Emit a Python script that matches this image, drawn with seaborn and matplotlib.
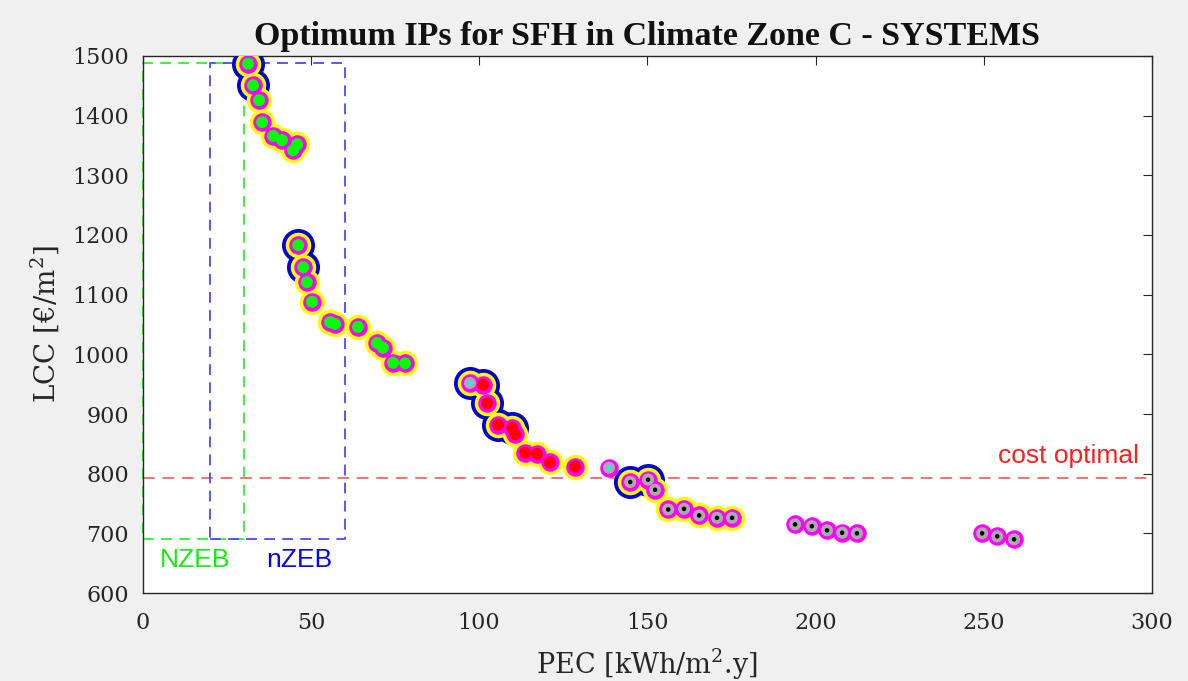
import matplotlib
matplotlib.use("Agg")
import matplotlib.pyplot as plt
import seaborn as sns
import pandas as pd
import numpy as np

# ---------------- data ----------------
pec = [31.3, 32.8, 34.6, 35.5, 38.8, 41.4, 45.9, 44.7,
       46.2, 47.7, 48.8, 50.3, 55.7, 57.2, 64.0, 69.6, 71.4, 74.4, 78.0,
       101.2, 97.3, 102.4, 105.6, 109.8, 110.7, 113.7, 117.2, 121.0, 128.5,
       138.6, 150.2, 144.9, 152.3, 156.2, 160.9, 165.4, 170.7, 175.2,
       193.9, 198.9, 203.4, 207.9, 212.3, 249.5, 254.0, 259.0]
lcc = [1487, 1451, 1426, 1389, 1366, 1359, 1352, 1342,
       1183, 1146, 1121, 1088, 1054, 1051, 1046, 1019, 1011, 986, 985,
       949, 952, 918, 882, 877, 866, 835, 833, 819, 812,
       810, 790, 786, 773, 740, 741, 730, 726, 726,
       715, 712, 705, 701, 700, 700, 695, 690]
fill = (["green"] * 19 + ["red"] * 10 + ["gray"] * 9 + ["gray"] * 8)
fill[20] = "gray"   # reference point (cyan dot)
centre = ["none"] * 29 + ["black"] * 17
centre[20] = "cyan"
centre[29] = "cyan"
blue_ring = [1, 1, 0, 0, 0, 0, 0, 0,
             1, 1, 0, 0, 0, 0, 0, 0, 0, 0, 0,
             1, 1, 1, 1, 1, 0, 0, 0, 0, 0,
             0, 1, 1, 0, 0, 0, 0, 0, 0,
             0, 0, 0, 0, 0, 0, 0, 0]
yellow_ring = [1] * 29 + [0] + [1] * 8 + [0] * 8

cost_optimal = 793
nzeb_x = [0, 30]
nzeb_y = [690, 1488]
nzeb2_x = [20, 60]
nzeb2_y = [690, 1488]

x_ticks = [0, 50, 100, 150, 200, 250, 300]
y_ticks = [600, 700, 800, 900, 1000, 1100, 1200, 1300, 1400, 1500]

df = pd.DataFrame({"pec": pec, "lcc": lcc, "fill": fill, "centre": centre,
                   "blue": blue_ring, "yellow": yellow_ring})

# ---------------- style ----------------
sns.set_theme(style="white")
plt.rcParams["font.family"] = ["DejaVu Serif"]
plt.rcParams["mathtext.default"] = "regular"

fig = plt.figure(figsize=(11.88, 6.81), dpi=100)
fig.patch.set_facecolor("#f0f0f0")
ax = fig.add_axes([0.1201, 0.1292, 0.8496, 0.7886])
ax.set_facecolor("white")

px = 0.72  # points per pixel at 100 dpi
fill_colors = {"green": "#00ff00", "red": "#ff0000", "gray": "#ababab"}

# blue outer rings
sns.scatterplot(data=df[df["blue"] == 1], x="pec", y="lcc", ax=ax, s=(33 * px) ** 2,
                color="#0000d0", linewidth=0, legend=False, zorder=3)
# yellow rings
sns.scatterplot(data=df[(df["yellow"] == 1) | (df["blue"] == 1)], x="pec", y="lcc", ax=ax,
                s=(25.5 * px) ** 2, color="#ffff00", linewidth=0, legend=False, zorder=4)
# magenta rings
sns.scatterplot(data=df, x="pec", y="lcc", ax=ax, s=(18.5 * px) ** 2,
                color="#ff00ff", linewidth=0, legend=False, zorder=5)
# inner fills
sns.scatterplot(data=df, x="pec", y="lcc", hue="fill", palette=fill_colors, ax=ax,
                s=(12 * px) ** 2, linewidth=0, legend=False, zorder=6)
# centre dots
ddf = df[df["centre"] != "none"]
sns.scatterplot(data=ddf, x="pec", y="lcc", hue="centre",
                palette={"black": "#000000", "cyan": "#00ffff"}, ax=ax,
                s=(4.5 * px) ** 2, linewidth=0, legend=False, zorder=7)

# NZEB / nZEB boxes
def box(xs, ys, color):
    bx = [xs[0], xs[1], xs[1], xs[0], xs[0]]
    by = [ys[0], ys[0], ys[1], ys[1], ys[0]]
    ax.plot(bx, by, linestyle=(0, (6, 4)), color=color, linewidth=1.3, zorder=2,
            clip_on=False)

box(nzeb_x, nzeb_y, "#33ee33")
box(nzeb2_x, nzeb2_y, "#4a4aff")

ax.axhline(cost_optimal, color="#ff7070", linestyle=(0, (6, 4)), linewidth=1.4, zorder=1)

ax.text(5, 655, "NZEB", color="#11ee11", fontsize=19,
        family=["Liberation Sans"], va="center", ha="left")
ax.text(36.7, 655, "nZEB", color="#0000ff", fontsize=19,
        family=["Liberation Sans"], va="center", ha="left")
ax.text(296, 830, "cost optimal", color="#ff2020", fontsize=19,
        family=["Liberation Sans"], va="center", ha="right")

ax.set_xlim(0, 300)
ax.set_ylim(600, 1500)
ax.set_xticks(x_ticks)
ax.set_yticks(y_ticks)
ax.tick_params(direction="in", length=6.5, width=0.8, top=True, right=True,
               labelsize=16, colors="#262626", pad=10)
ax.tick_params(axis="x", pad=14)
for sp in ax.spines.values():
    sp.set_visible(True)
    sp.set_color("#262626")
    sp.set_linewidth(1.0)

ax.set_xlabel("PEC [kWh/m$^2$.y]", fontsize=19.5, color="#262626", labelpad=9)
ax.set_ylabel("LCC [€/m$^2$]", fontsize=20, color="#262626", labelpad=8)
ax.set_title("Optimum IPs for SFH in Climate Zone C - SYSTEMS",
             fontsize=24.5, fontweight="bold", family=["Liberation Serif"],
             color="#111111", pad=8)

fig.savefig("out.png", dpi=100, facecolor=fig.get_facecolor())
